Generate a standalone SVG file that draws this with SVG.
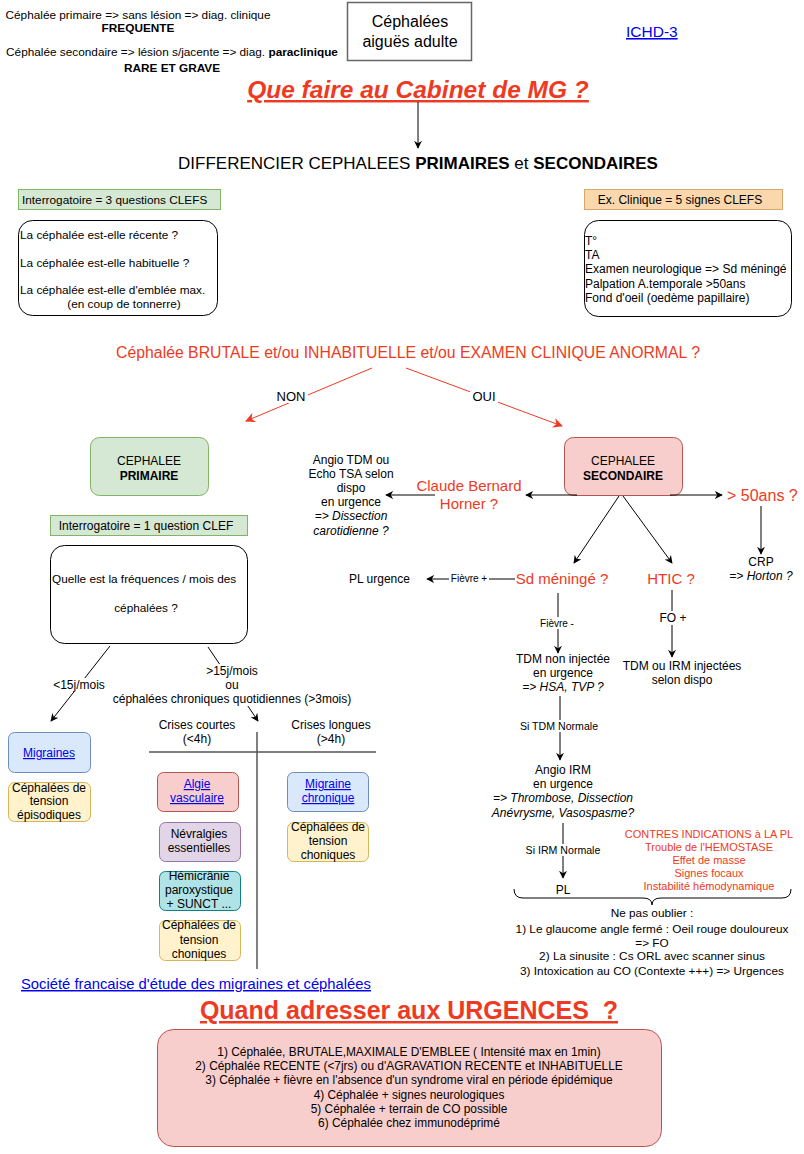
<svg xmlns="http://www.w3.org/2000/svg" width="804" height="1154" viewBox="0 0 804 1154">
<style>
text{font-family:"Liberation Sans",Arial,sans-serif;fill:#000}
.c{text-anchor:middle}
.b{font-weight:bold}
.i{font-style:italic}
.r{fill:#EE3A23}
.lnk{fill:#0000EE;text-decoration:underline}
.ln{stroke:#000;stroke-width:1;fill:none}
.rl{stroke:#EE3A23;stroke-width:1;fill:none}
.lab{fill:#fff;stroke:none}
</style>
<defs>
<marker id="a" viewBox="0 0 10 10" refX="9" refY="5" markerWidth="8" markerHeight="8" orient="auto" markerUnits="userSpaceOnUse"><path d="M0,0 L10,5 L0,10 L3,5 z" fill="#000"/></marker>
<marker id="ar" viewBox="0 0 10 10" refX="9" refY="5" markerWidth="10" markerHeight="10" orient="auto" markerUnits="userSpaceOnUse"><path d="M0,0 L10,5 L0,10 L3,5 z" fill="#EE3A23"/></marker>
</defs>
<rect width="804" height="1154" fill="#fff"/>

<g id="intro" font-size="11.8">
<text class="c" x="138" y="19">Céphalée primaire =&gt; sans lésion =&gt; diag. clinique</text>
<text class="c b" x="138" y="32">FREQUENTE</text>
<text class="c" x="172" y="56">Céphalée secondaire =&gt; lésion s/jacente =&gt; diag. <tspan font-weight="bold">paraclinique</tspan></text>
<text class="c b" x="172" y="72">RARE ET GRAVE</text>
</g>

<g id="titlebox">
<rect x="347.5" y="2.5" width="124" height="58" fill="#fff" stroke="#666" stroke-width="1.5"/>
<text class="c" x="410" y="27" font-size="16">Céphalées</text>
<text class="c" x="410" y="47" font-size="16">aiguës adulte</text>
</g>
<g id="ichd"><text class="lnk" x="626" y="37" font-size="15.5">ICHD-3</text></g>

<g id="q1"><text class="c b i r" x="418" y="98" font-size="24.5" text-decoration="underline">Que faire au Cabinet de MG ?</text></g>
<g id="diff"><text class="c" x="418" y="169" font-size="17">DIFFERENCIER CEPHALEES <tspan font-weight="bold">PRIMAIRES</tspan> et <tspan font-weight="bold">SECONDAIRES</tspan></text></g>

<g id="interro3">
<rect x="18.5" y="189.5" width="202" height="20" fill="#d5e8d4" stroke="#82b366"/>
<text x="22" y="203.5" font-size="11.8">Interrogatoire = 3 questions CLEFS</text>
</g>
<g id="questions3" font-size="11.8">
<rect x="18.5" y="220.5" width="199" height="95" rx="14" fill="#fff" stroke="#000"/>
<text x="20" y="239">La céphalée est-elle récente ?</text>
<text x="20" y="267">La céphalée est-elle habituelle ?</text>
<text x="20" y="294">La céphalée est-elle d'emblée max.</text>
<text class="c" x="124" y="308">(en coup de tonnerre)</text>
</g>

<g id="exclin">
<rect x="584.5" y="189.5" width="198" height="20" fill="#fad7ac" stroke="#d7a96b"/>
<text class="c" x="680" y="203.5" font-size="12">Ex. Clinique = 5 signes CLEFS</text>
</g>
<g id="signes5" font-size="12">
<rect x="584.5" y="220.5" width="207" height="96" rx="14" fill="#fff" stroke="#000"/>
<text x="585" y="245">T°</text>
<text x="585" y="259">TA</text>
<text x="585" y="273">Examen neurologique =&gt; Sd méningé</text>
<text x="585" y="288">Palpation A.temporale &gt;50ans</text>
<text x="585" y="302">Fond d'oeil (oedème papillaire)</text>
</g>

<g id="question"><text class="c r" x="408" y="358" font-size="15.8">Céphalée BRUTALE et/ou INHABITUELLE et/ou EXAMEN CLINIQUE ANORMAL ?</text></g>

<g id="primaire">
<rect x="90.5" y="437.5" width="118" height="58" rx="9" fill="#d5e8d4" stroke="#82b366"/>
<text class="c" x="149" y="465" font-size="12">CEPHALEE</text>
<text class="c b" x="149" y="480" font-size="12">PRIMAIRE</text>
</g>
<g id="secondaire">
<rect x="564.5" y="437.5" width="118" height="58" rx="9" fill="#f8cecc" stroke="#b85450"/>
<text class="c" x="623" y="465" font-size="12">CEPHALEE</text>
<text class="c b" x="623" y="480" font-size="12">SECONDAIRE</text>
</g>

<g id="interro1">
<rect x="50.5" y="515.5" width="197" height="20" fill="#d5e8d4" stroke="#82b366"/>
<text class="c" x="146" y="529.5" font-size="12">Interrogatoire = 1 question CLEF</text>
</g>
<g id="freq" font-size="11.8">
<rect x="50.5" y="545.5" width="197" height="98" rx="14" fill="#fff" stroke="#000"/>
<text x="52" y="583">Quelle est la fréquences / mois des</text>
<text class="c" x="146" y="612">céphalées ?</text>
</g>

<g id="angio" font-size="12">
<text class="c" x="351" y="464">Angio TDM ou</text>
<text class="c" x="351" y="478">Echo TSA selon</text>
<text class="c" x="351" y="492">dispo</text>
<text class="c" x="351" y="506">en urgence</text>
<text class="c i" x="351" y="520">=&gt; Dissection</text>
<text class="c i" x="351" y="535">carotidienne ?</text>
</g>
<g id="cbh">
<text class="c r" x="469" y="491" font-size="15">Claude Bernard</text>
<text class="c r" x="469" y="509" font-size="15">Horner ?</text>
</g>
<g id="age50"><text class="r" x="727" y="501" font-size="16">&gt; 50ans ?</text></g>
<g id="crp">
<text class="c" x="761" y="566" font-size="12">CRP</text>
<text class="c i" x="761" y="580" font-size="12">=&gt; Horton ?</text>
</g>
<g id="plurg"><text x="349" y="583" font-size="12">PL urgence</text></g>
<g id="sdm"><text class="c r" x="562" y="584" font-size="15">Sd méningé ?</text></g>
<g id="htic"><text class="c r" x="671" y="584" font-size="15">HTIC ?</text></g>
<g id="tdmni" font-size="12">
<text class="c" x="563" y="663">TDM non injectée</text>
<text class="c" x="563" y="677">en urgence</text>
<text class="c i" x="563" y="691">=&gt; HSA, TVP ?</text>
</g>
<g id="tdmirm" font-size="12">
<text class="c" x="682" y="670">TDM ou IRM injectées</text>
<text class="c" x="682" y="684">selon dispo</text>
</g>
<g id="angioirm" font-size="12">
<text class="c" x="563" y="774">Angio IRM</text>
<text class="c" x="563" y="788">en urgence</text>
<text class="c i" x="563" y="802">=&gt; Thrombose, Dissection</text>
<text class="c i" x="563" y="817">Anévrysme, Vasospasme?</text>
</g>
<g id="pl"><text class="c" x="563" y="894" font-size="12">PL</text></g>
<g id="ci" font-size="11">
<text class="c r" x="709" y="838">CONTRES INDICATIONS à LA PL</text>
<text class="c r" x="709" y="851">Trouble de l'HEMOSTASE</text>
<text class="c r" x="709" y="864">Effet de masse</text>
<text class="c r" x="709" y="877">Signes focaux</text>
<text class="c r" x="709" y="890">Instabilité hémodynamique</text>
</g>
<g id="oublier" font-size="11.8">
<text class="c" x="652" y="917">Ne pas oublier :</text>
<text class="c" x="652" y="933">1) Le glaucome angle fermé : Oeil rouge douloureux</text>
<text class="c" x="652" y="947">=&gt; FO</text>
<text class="c" x="652" y="960">2) La sinusite : Cs ORL avec scanner sinus</text>
<text class="c" x="652" y="975">3) Intoxication au CO (Contexte +++) =&gt; Urgences</text>
</g>

<g id="migraines">
<rect x="8.5" y="732.5" width="82" height="40" rx="6" fill="#dae8fc" stroke="#6c8ebf"/>
<text class="c lnk" x="49" y="757" font-size="12">Migraines</text>
</g>
<g id="ctepi" font-size="12">
<rect x="8.5" y="782.5" width="82" height="39" rx="6" fill="#fff2cc" stroke="#d6b656"/>
<text class="c" x="49" y="792">Céphalées de</text>
<text class="c" x="49" y="805">tension</text>
<text class="c" x="49" y="819">épisodiques</text>
</g>
<g id="crisescourtes" font-size="12">
<text class="c" x="197" y="729">Crises courtes</text>
<text class="c" x="197" y="743">(&lt;4h)</text>
</g>
<g id="criseslongues" font-size="12">
<text class="c" x="331" y="729">Crises longues</text>
<text class="c" x="331" y="743">(&gt;4h)</text>
</g>
<g id="algie" font-size="12">
<rect x="157.5" y="772.5" width="81" height="39" rx="6" fill="#f8cecc" stroke="#b85450"/>
<text class="c lnk" x="197" y="788">Algie</text>
<text class="c lnk" x="197" y="802">vasculaire</text>
</g>
<g id="nevralgies" font-size="12">
<rect x="159.5" y="822.5" width="81" height="39" rx="6" fill="#e1d5e7" stroke="#9673a6"/>
<text class="c" x="199" y="838">Névralgies</text>
<text class="c" x="199" y="852">essentielles</text>
</g>
<g id="hemicranie" font-size="12">
<rect x="159.5" y="871.5" width="81" height="39" rx="6" fill="#b0e3e6" stroke="#0e8088"/>
<text class="c" x="199" y="880">Hémicrânie</text>
<text class="c" x="199" y="894">paroxystique</text>
<text class="c" x="199" y="908">+ SUNCT ...</text>
</g>
<g id="ctchon1" font-size="12">
<rect x="159.5" y="920.5" width="81" height="40" rx="6" fill="#fff2cc" stroke="#d6b656"/>
<text class="c" x="199" y="929">Céphalées de</text>
<text class="c" x="199" y="944">tension</text>
<text class="c" x="199" y="958">choniques</text>
</g>
<g id="migchron" font-size="12">
<rect x="287.5" y="772.5" width="81" height="39" rx="6" fill="#dae8fc" stroke="#6c8ebf"/>
<text class="c lnk" x="328" y="788">Migraine</text>
<text class="c lnk" x="328" y="802">chronique</text>
</g>
<g id="ctchon2" font-size="12">
<rect x="287.5" y="822.5" width="81" height="39" rx="6" fill="#fff2cc" stroke="#d6b656"/>
<text class="c" x="328" y="831">Céphalées de</text>
<text class="c" x="328" y="845">tension</text>
<text class="c" x="328" y="859">choniques</text>
</g>

<g id="sfemc"><text class="lnk" x="21" y="989" font-size="14.8">Société francaise d'étude des migraines et céphalées</text></g>
<g id="q2"><text class="c b r" x="409" y="1019" font-size="25" text-decoration="underline" style="white-space:pre">Quand adresser aux URGENCES  ?</text></g>
<g id="urgences" font-size="11.9">
<rect x="157.5" y="1029.5" width="504" height="117" rx="16" fill="#f8cecc" stroke="#b85450"/>
<text class="c" x="409" y="1056">1) Céphalée, BRUTALE,MAXIMALE D'EMBLEE ( Intensité max en 1min)</text>
<text class="c" x="409" y="1070">2) Céphalée RECENTE (&lt;7jrs) ou d'AGRAVATION RECENTE et INHABITUELLE</text>
<text class="c" x="409" y="1084">3) Céphalée + fièvre en l'absence d'un syndrome viral en période épidémique</text>
<text class="c" x="409" y="1099">4) Céphalée + signes neurologiques</text>
<text class="c" x="409" y="1113">5) Céphalée + terrain de CO possible</text>
<text class="c" x="409" y="1127">6) Céphalée chez immunodéprimé</text>
</g>

<g id="connectors">
<line class="ln" x1="418" y1="102" x2="418" y2="148" marker-end="url(#a)"/>
<line class="rl" x1="372" y1="368" x2="246" y2="421" marker-end="url(#ar)"/>
<line class="rl" x1="406" y1="368" x2="562" y2="426" marker-end="url(#ar)"/>
<rect class="lab" x="274" y="388" width="34" height="15"/>
<text class="c" x="291" y="401" font-size="13">NON</text>
<rect class="lab" x="470" y="388" width="28" height="15"/>
<text class="c" x="484" y="401" font-size="13">OUI</text>

<line class="ln" x1="110" y1="646" x2="51" y2="721" marker-end="url(#a)"/>
<rect class="lab" x="52" y="678" width="54" height="14"/>
<text class="c" x="79" y="689" font-size="12">&lt;15j/mois</text>
<line class="ln" x1="208" y1="647" x2="258" y2="721" marker-end="url(#a)"/>
<rect class="lab" x="114" y="664" width="238" height="42"/>
<text class="c" x="232" y="675" font-size="12">&gt;15j/mois</text>
<text class="c" x="232" y="689" font-size="12">ou</text>
<text class="c" x="232" y="703" font-size="12">céphalées chroniques quotidiennes (&gt;3mois)</text>

<line stroke="#555" stroke-width="1.5" x1="149" y1="752" x2="376" y2="752"/>
<line stroke="#555" stroke-width="1.5" x1="257" y1="732" x2="257" y2="969"/>

<line class="ln" x1="577" y1="495" x2="526" y2="495" marker-end="url(#a)"/>
<line class="ln" x1="435" y1="495" x2="386" y2="495" marker-end="url(#a)"/>
<line class="ln" x1="670" y1="495" x2="722" y2="495" marker-end="url(#a)"/>
<line class="ln" x1="761" y1="506" x2="761" y2="554" marker-end="url(#a)"/>
<line class="ln" x1="619" y1="496" x2="574" y2="563" marker-end="url(#a)"/>
<line class="ln" x1="623" y1="496" x2="672" y2="563" marker-end="url(#a)"/>

<line class="ln" x1="515" y1="579" x2="427" y2="579" marker-end="url(#a)"/>
<rect class="lab" x="449" y="572" width="40" height="12"/>
<text class="c" x="469" y="582" font-size="10">Fièvre +</text>
<line class="ln" x1="558" y1="593" x2="558" y2="653" marker-end="url(#a)"/>
<rect class="lab" x="538" y="617" width="40" height="12"/>
<text class="c" x="557" y="627" font-size="10">Fièvre -</text>
<line class="ln" x1="672" y1="590" x2="672" y2="657" marker-end="url(#a)"/>
<rect class="lab" x="660" y="611" width="26" height="14"/>
<text class="c" x="673" y="622" font-size="12">FO +</text>

<line class="ln" x1="560" y1="696" x2="560" y2="760" marker-end="url(#a)"/>
<rect class="lab" x="518" y="720" width="84" height="12"/>
<text class="c" x="559" y="730" font-size="10.6">Si TDM Normale</text>
<line class="ln" x1="563" y1="823" x2="563" y2="878" marker-end="url(#a)"/>
<rect class="lab" x="522" y="844" width="82" height="12"/>
<text class="c" x="563" y="854" font-size="10.6">Si IRM Normale</text>

<path class="ln" d="M514,889 Q514,898 523,898 L643,898 Q652,898 652,905 Q652,898 661,898 L782,898 Q791,898 791,889"/>
</g>
</svg>
